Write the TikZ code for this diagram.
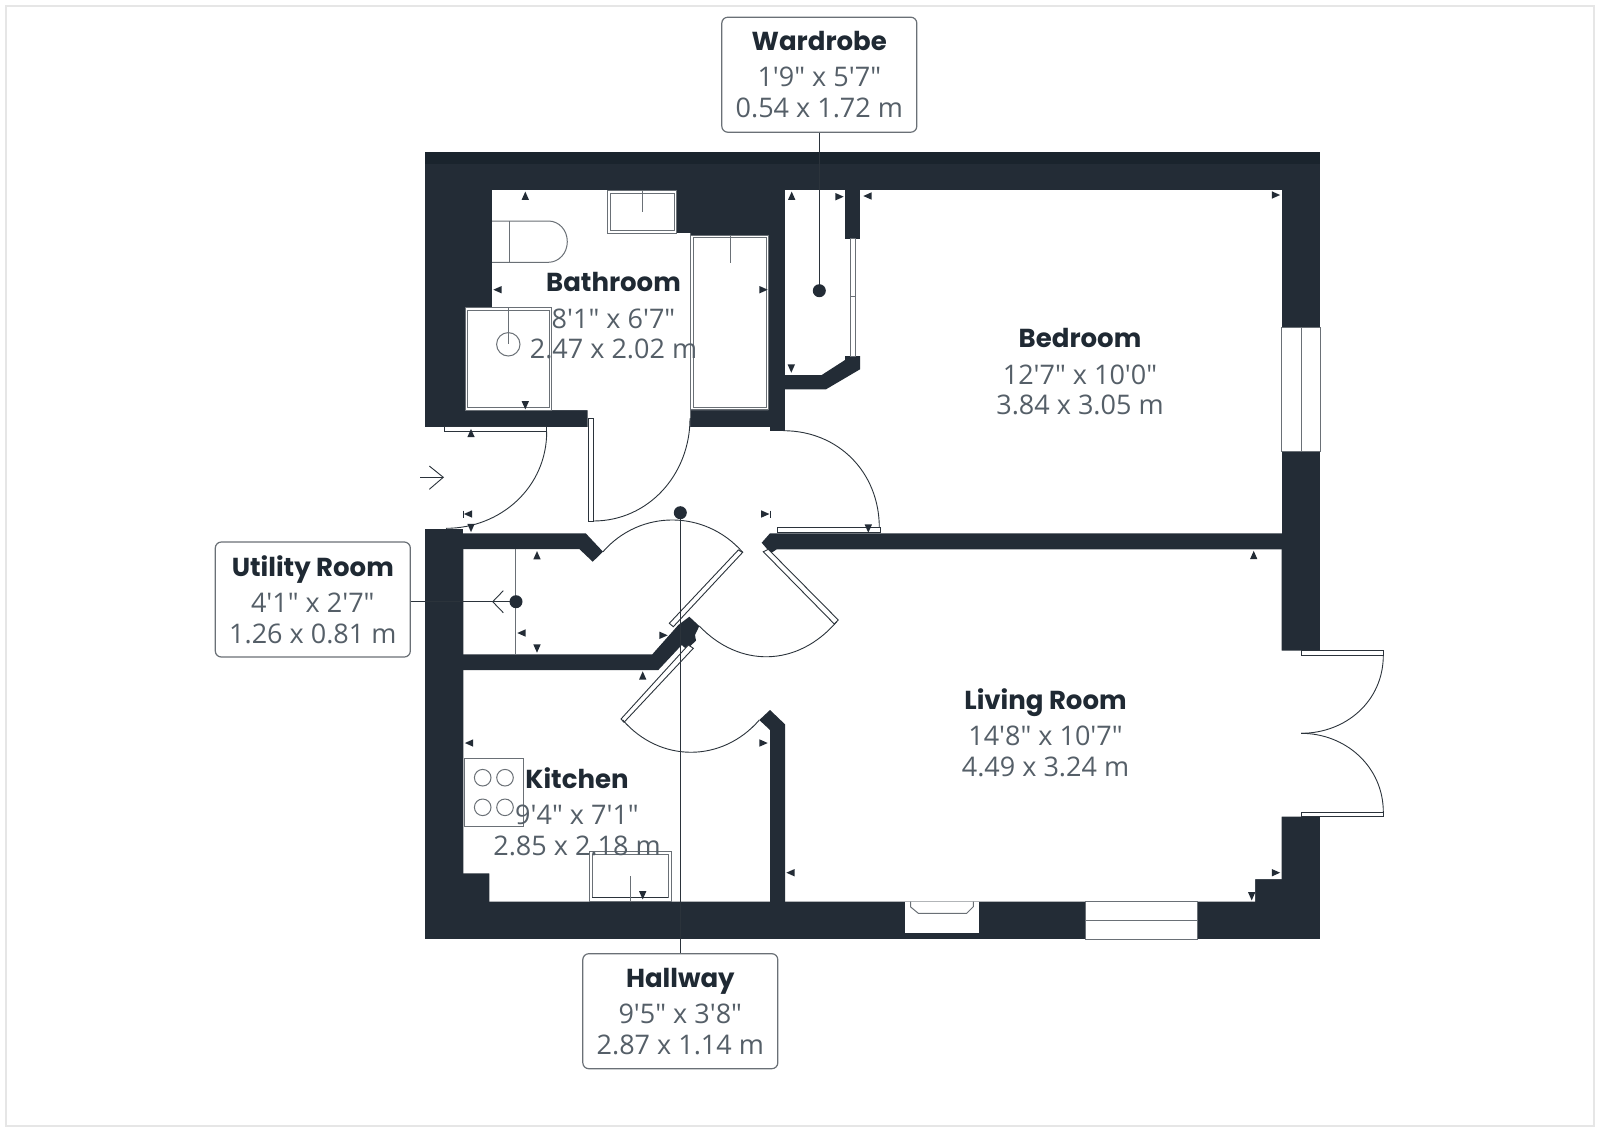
\documentclass[tikz,border=0pt]{standalone}
\usepackage{fontspec}
\newfontfamily\namefont{Poppins}
\newfontfamily\dimfont{Open Sans}
\definecolor{wallcol}{HTML}{232C36}
\definecolor{topcol}{HTML}{1A242D}
\definecolor{namecol}{HTML}{1F2933}
\definecolor{dimcol}{HTML}{555F68}
\definecolor{linecol}{HTML}{2B333B}
\definecolor{fixcol}{HTML}{6A7076}
\definecolor{framecol}{HTML}{E6E6E6}
\newcommand{\roomtext}[3]{{\namefont\bfseries\color{namecol}#1}\\[5.5pt]{\dimfont\color{dimcol}\fontsize{27}{30.7}\selectfont #2}\\{\dimfont\color{dimcol}\fontsize{27}{30.7}\selectfont #3}}
\tikzset{
	wall/.style={fill=wallcol},
	room/.style={fill=white},
	fixture/.style={draw=fixcol,line width=1pt},
	swing/.style={draw=linecol,line width=0.9pt},
	leaf/.style={draw=linecol,line width=0.9pt,fill=white},
	lead/.style={draw=linecol,line width=1pt},
	roomlabel/.style={align=center,inner sep=0pt,font=\fontsize{26}{30.7}\selectfont},
	boxlabel/.style={roomlabel,draw=fixcol,line width=1.2pt,rounded corners=6pt,fill=white,minimum width=195pt,minimum height=115pt},
}
\begin{document}
\begin{tikzpicture}[x=1pt,y=-1pt]
	\useasboundingbox (0,0) rectangle (1600,1128);
	% draw page frame
	\draw[framecol,line width=2pt] (6,6) rectangle (1594,1126);

	% draw outer block
	\fill[wall] (425.3,151.5) rectangle (1320,939.3);
	\fill[topcol] (425.3,151.5) rectangle (1320,164);

	% cut out rooms
	\fill[room] (492,190) -- (676,190) -- (676,233) -- (690.7,233) -- (690.7,235) -- (768.3,235) -- (768.3,410) -- (690,410) -- (690,428) -- (587.7,428) -- (587.7,410) -- (465,410) -- (465,307.7) -- (492,307.7) -- cycle;
	\fill[room] (785,190) rectangle (1281.7,535);
	\fill[room] (425.3,426.7) rectangle (786,535);
	\fill[room] (463.3,533.3) -- (1281.7,533.3) -- (1281.7,650.7) -- (1320,650.7) -- (1320,816.7) -- (1281.7,816.7) -- (1281.7,879) -- (1255,879) -- (1255,901.7) -- (489.3,901.7) -- (489.3,873.3) -- (463.3,873.3) -- cycle;

	% draw inner walls
	\fill[wall] (425.3,529.3) rectangle (463.3,537);
	\fill[wall] (770,426.7) rectangle (785,430.7);
	\fill[wall] (463,533.3) -- (585.7,533.3) -- (603,551.7) -- (592.7,561.7) -- (579.3,549) -- (463,549) -- cycle;
	\fill[wall] (1282,533.3) -- (770,533.3) -- (761.7,542.7) -- (770.7,553.3) -- (776.7,549.3) -- (1282,549.3) -- cycle;
	\fill[wall] (463,654.3) -- (652.3,654.3) -- (678.3,625) -- (689.3,616.7) -- (699.3,626) -- (695,635) -- (696,640.7) -- (686.7,649.3) -- (681.7,645) -- (658.3,670) -- (463,670) -- cycle;
	\fill[wall] (785,724.3) -- (770,710) -- (759.3,720) -- (770,730) -- (770,902) -- (785,902) -- cycle;
	\fill[wall] (845,190) rectangle (860,238.7);
	\fill[wall] (785,375) -- (821.7,375) -- (845,360) -- (845,356) -- (860,356) -- (860,369.3) -- (826,389.3) -- (785,389.3) -- cycle;

	% draw windows
	\draw[fixture,fill=white] (1281.7,327.3) rectangle (1320,451);
	\draw[fixture] (1301.3,327.3) -- (1301.3,451);
	\draw[fixture,fill=white] (1085.7,901.7) rectangle (1197.7,939.3);
	\draw[fixture] (1085.7,920.3) -- (1197.7,920.3);
	\fill[room] (905,901.7) rectangle (979.3,933.3);
	\draw[fixture] (910.7,901.7) -- (910.7,907) -- (918.3,913.3) -- (966.7,913.3) -- (973.3,906.7) -- (973.3,901.7);

	% draw wardrobe glass
	\draw[fixture] (850.7,238.7) rectangle (855,356);
	\draw[fixture] (850.7,296.7) -- (855,296.7);

	% draw fittings
	\draw[fixture,fill=white] (607.7,190.7) rectangle (676,233.3);
	\draw[fixture] (610.7,193.3) rectangle (674,230.7);
	\draw[fixture] (642.3,190.7) -- (642.3,211.7);
	\draw[fixture] (690.7,235) rectangle (768.3,409.3);
	\draw[fixture] (693.3,237.7) rectangle (766,407.3);
	\draw[fixture] (730,235) -- (730,262.7);
	\draw[fixture] (690,233) -- (690,418);
	\draw[fixture,fill=white] (465,307.7) rectangle (551.7,410);
	\draw[fixture] (467.7,310.7) rectangle (549,407.3);
	\draw[fixture] (508.3,307.7) -- (508.3,344);
	\draw[fixture] (508.3,344.3) circle (11.7);
	\draw[fixture] (492,221) -- (548.3,221) .. controls (559,221) and (567.3,230) .. (567.3,241.7) .. controls (567.3,253) and (559,262.3) .. (548.3,262.3) -- (492,262.3);
	\draw[fixture] (509.7,221) -- (509.7,262.3);
	\draw[fixture] (464.3,758.3) rectangle (523.3,826);
	\foreach \x/\y in {482.7/777.7,505/777.7,482.7/807.3,505/807.3}
		\draw[fixture] (\x,\y) circle (8.3);
	\draw[fixture] (589.3,851) rectangle (671,901.7);
	\draw[fixture] (592.3,854.3) rectangle (668.3,897.3);
	\draw[swing] (592.3,897.3) -- (668.3,897.3);
	\draw[fixture] (630,876) -- (630,901.7);
	\draw[fixture] (515,549) -- (515,654.3);

	% draw door leaves
	\draw[leaf] (444,426.7) rectangle (546.7,431.7);
	\draw[leaf] (588.3,418.3) rectangle (593.3,521);
	\draw[leaf] (777.3,527.7) rectangle (880,532.7);
	\draw[leaf] (669.3,623.3) -- (738.3,550) -- (742.7,552.3) -- (673.3,626.7) -- cycle;
	\draw[leaf] (763.3,551.7) -- (768.3,549.3) -- (838.3,620) -- (834.3,624) -- cycle;
	\draw[leaf] (688.3,645) -- (693.3,648.3) -- (624,722.3) -- (621,719) -- cycle;
	\draw[leaf] (1301,650.7) rectangle (1383.3,655.3);
	\draw[leaf] (1301,812) rectangle (1383.3,816.7);

	% draw door swings
	\draw[swing] (546.7,431.7) .. controls (546.7,487) and (501,528.3) .. (446,528.3);
	\draw[swing] (593.3,521) .. controls (648,521) and (690,475) .. (690,418.3);
	\draw[swing] (879.3,527.7) .. controls (879.3,472) and (838,430.7) .. (783.3,430.7);
	\draw[swing] (603,551.7) .. controls (640,509.3) and (705,509.3) .. (742.7,552.3);
	\draw[swing] (699.3,626) .. controls (739,667.7) and (797,667.7) .. (836.7,621.7);
	\draw[swing] (622.7,720) .. controls (660,763) and (722,763) .. (759.3,720);
	\draw[swing] (1383.3,655.3) .. controls (1383.3,701) and (1346,733.3) .. (1301,733.3);
	\draw[swing] (1383.3,812) .. controls (1383.3,767) and (1346,733.3) .. (1301,733.3);

	% draw entrance arrow
	\draw[swing] (420,477.3) -- (443.3,477.3);
	\draw[swing] (429.3,466) -- (443.3,477.3) -- (429.3,489.3);
	\draw[swing] (503.3,590.7) -- (492.7,601.7) -- (503.3,612.7);

	% draw dimension marks
	\foreach \x/\y/\a in {525.3/196/0,497.7/289.7/90,525.3/405/180,791.7/196/0,839.3/196.7/270,867.7/196/90,763.3/289.7/270,791.3/368.3/180,471/433.3/0,468.3/514/90,471/527.7/180,765/514/270,868.3/528.3/180,537/555.5/0,521.7/633/90,537/648.3/180,663.3/635.3/270,642.7/675.7/0,469.3/743/90,763.3/743/270,790.7/872.7/90,642.7/895/180,1275.7/195/270,1253.7/555.3/0,1275.7/872.7/270,1251.7/896/180}
		\fill[wallcol,shift={(\x,\y)},rotate=\a] (0,-4.4) -- (3.7,3.9) -- (-3.7,3.9) -- cycle;
	\draw[wallcol,line width=0.8pt] (463.7,510.5) -- (463.7,517.5);
	\draw[wallcol,line width=0.8pt] (770,510.5) -- (770,517.5);

	% draw labels
	\node[roomlabel] (bathroom) at (613.5,316) {\roomtext{Bathroom}{8'1" x 6'7"}{2.47 x 2.02 m}};
	\node[roomlabel] (bedroom) at (1080,372) {\roomtext{Bedroom}{12'7" x 10'0"}{3.84 x 3.05 m}};
	\node[roomlabel] (livingroom) at (1045.5,733) {\roomtext{Living Room}{14'8" x 10'7"}{4.49 x 3.24 m}};
	\node[roomlabel] (kitchen) at (577,811.5) {\roomtext{Kitchen}{9'4" x 7'1"}{2.85 x 2.18 m}};
	\node[boxlabel] (wardrobe) at (819.3,74.7) {\roomtext{Wardrobe}{1'9" x 5'7"}{0.54 x 1.72 m}};
	\node[boxlabel] (utilityroom) at (312.8,599.5) {\roomtext{Utility Room}{4'1" x 2'7"}{1.26 x 0.81 m}};
	\node[boxlabel] (hallway) at (680.3,1011.2) {\roomtext{Hallway}{9'5" x 3'8"}{2.87 x 1.14 m}};

	% draw leaders
	\coordinate (wardrobedot) at (819.3,290.7);
	\coordinate (utilitydot) at (516,601.7);
	\coordinate (hallwaydot) at (680.3,512.7);
	\draw[lead] (wardrobe.south) -- (wardrobedot);
	\draw[lead] (utilityroom.east |- utilitydot) -- (utilitydot);
	\draw[lead] (hallway.north) -- (hallwaydot);
	\fill[wallcol] (wardrobedot) circle (6.5);
	\fill[wallcol] (utilitydot) circle (6.5);
	\fill[wallcol] (hallwaydot) circle (6.5);
\end{tikzpicture}
\end{document}
